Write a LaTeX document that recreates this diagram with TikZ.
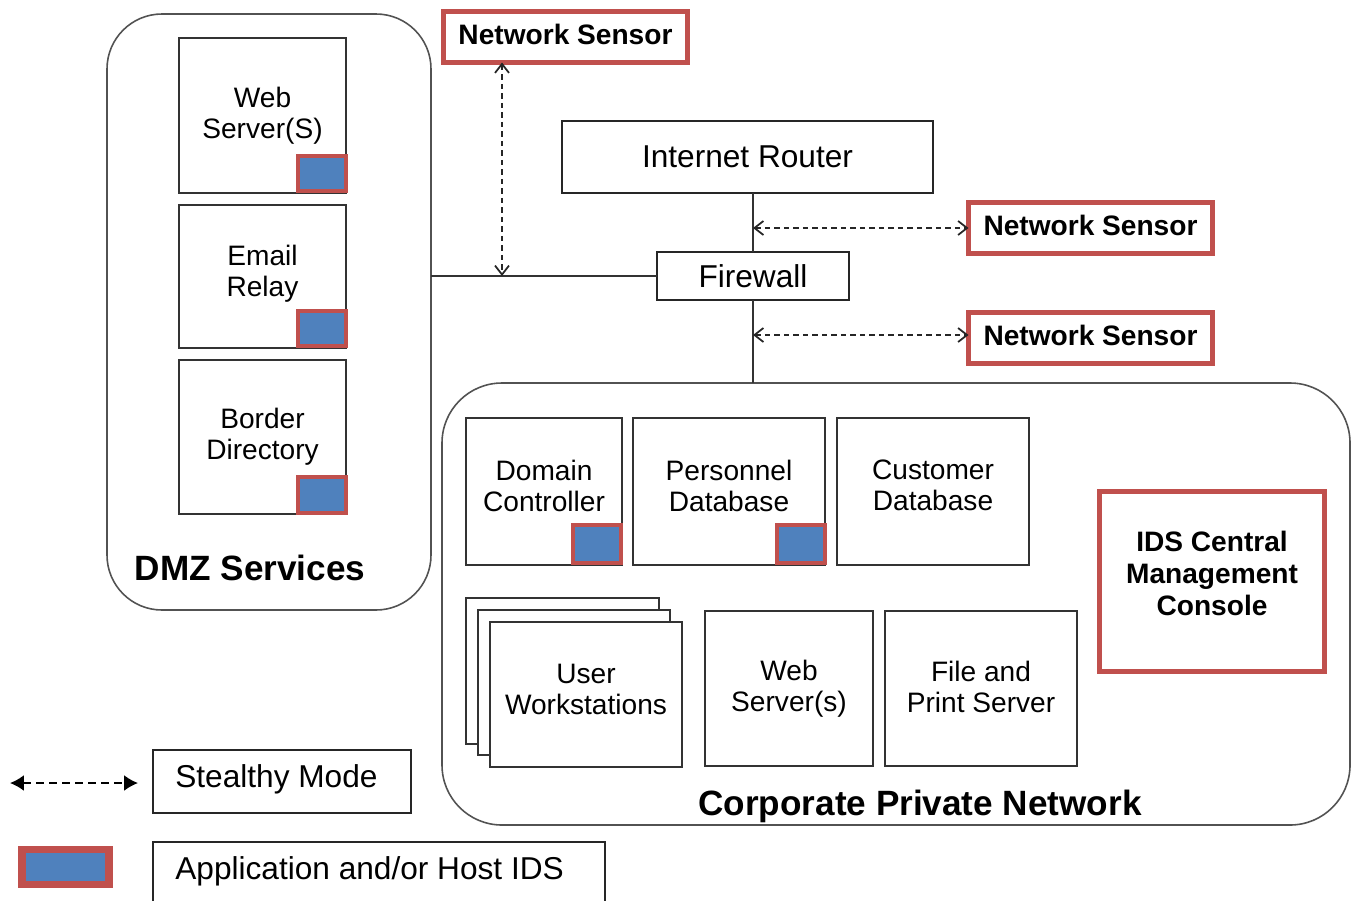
\documentclass[tikz,border=0pt]{standalone}
\usepackage{fontspec}
\setmainfont{Liberation Sans}
\usetikzlibrary{arrows.meta}
\definecolor{idsred}{HTML}{C0504D}
\definecolor{idsblue}{HTML}{4F81BD}
\definecolor{edgegray}{HTML}{333333}
% box from (x1,y1) to (x2,y2) in pixels, style, text raise in pixels, text
\newcommand{\bx}[8]{\node[#6, minimum width={(#4-#2)*0.02cm}, minimum height={(#5-#3)*0.02cm}] (#1) at ({(#2+#4)/2},{(#3+#5)/2}) {};
  \node[#6, draw=none, fill=none, minimum width=0pt, minimum height=0pt] (#1-t) at ([yshift={#7*0.567pt}]#1.center) {#8};}
\tikzset{
  base/.style={inner sep=0pt, outer sep=0pt, align=center, font=\fontsize{16}{17.6}\selectfont},
  srv/.style={base, draw=edgegray, line width=1.1pt, fill=white},
  big/.style={base, draw=black!85, line width=1.1pt, fill=white, font=\fontsize{18}{21}\selectfont},
  sensor/.style={base, draw=idsred, line width=2.6pt, fill=white, font=\bfseries\fontsize{16}{18.4}\selectfont},
  ids/.style={base, draw=idsred, fill=idsblue, line width=2.3pt},
  region/.style={base, draw=edgegray!85, line width=0.9pt, rounded corners=1.1cm},
  rlabel/.style={inner sep=0pt, font=\bfseries\fontsize{20}{24}\selectfont},
  legtext/.style={inner sep=0pt, anchor=west, font=\fontsize{18}{21}\selectfont},
  wire/.style={draw=edgegray, line width=1.1pt},
  stealthy/.style={draw=black!85, line width=1pt, dash pattern=on 1.1mm off 0.8mm,
    {Straight Barb[length=1.8mm,width=2.8mm]}-{Straight Barb[length=1.8mm,width=2.8mm]}},
  legarrow/.style={draw=black, line width=1pt, dash pattern=on 1.5mm off 1.1mm,
    {Latex[length=2.8mm,width=3.2mm]}-{Latex[length=2.8mm,width=3.2mm]}}
}
\begin{document}
\begin{tikzpicture}[x=0.02cm,y=-0.02cm]
\useasboundingbox (0,0) rectangle (1358,900);
% regions
\bx{dmz}{107}{14}{431}{610}{region}{0}{}
\bx{corp}{442}{383}{1350}{825}{region, rounded corners=1.2cm}{0}{}
\node[rlabel] (dmzlabel) at (250,568) {DMZ Services};
\node[rlabel] (corplabel) at (920,806) {Corporate Private Network};
% DMZ servers
\bx{web}{179}{38}{346}{193}{srv}{0}{Web\\Server(S)}
\bx{mail}{179}{205}{346}{348}{srv}{3}{Email\\Relay}
\bx{bdir}{179}{360}{346}{514}{srv}{0}{Border\\Directory}
\bx{idsA}{298}{156}{346}{191}{ids}{0}{}
\bx{idsB}{298}{311}{346}{346}{ids}{0}{}
\bx{idsC}{298}{477}{346}{513}{ids}{0}{}
% network core
\bx{router}{562}{121}{933}{193}{big}{0}{Internet Router}
\bx{fw}{657}{252}{849}{300}{big}{0}{Firewall}
\bx{ns1}{443.5}{11.5}{687.5}{62.5}{sensor}{3}{Network Sensor}
\bx{ns2}{968.5}{202.5}{1212.5}{253.5}{sensor}{3}{Network Sensor}
\bx{ns3}{968.5}{312.5}{1212.5}{363.5}{sensor}{3}{Network Sensor}
% corporate servers
\bx{dc}{466}{418}{622}{565}{srv}{6}{Domain\\Controller}
\bx{pdb}{633}{418}{825}{565}{srv}{6}{Personnel\\Database}
\bx{cdb}{837}{418}{1029}{565}{srv}{6}{Customer\\Database}
\bx{idsD}{573}{525}{621}{563}{ids}{0}{}
\bx{idsE}{777}{525}{825}{563}{ids}{0}{}
\bx{ws3}{466}{598}{659}{744}{srv, line width=0.8pt}{0}{}
\bx{ws2}{478}{610}{670}{755}{srv, line width=0.8pt}{0}{}
\bx{ws1}{490}{622}{682}{767}{srv}{5}{User\\Workstations}
\bx{web2}{705}{611}{873}{766}{srv}{0}{Web\\Server(s)}
\bx{fps}{885}{611}{1077}{766}{srv}{2}{File and\\Print Server}
\bx{cmc}{1099.5}{491.5}{1324.5}{671.5}{sensor}{8}{IDS Central\\Management\\Console}
% wires
\draw[wire] (fw.west) -- (fw.west -| dmz.east);
\draw[wire] (router.south -| fw.north) -- (fw.north);
\draw[wire] (fw.south) -- (fw.south |- corp.north);
% stealthy sensor links
\coordinate (tap1) at (502,276);
\draw[stealthy] (tap1 |- ns1.south) -- (tap1);
\coordinate (tap2) at (753,228);
\draw[stealthy] (tap2) -- (tap2 -| ns2.west);
\coordinate (tap3) at (753,335);
\draw[stealthy] (tap3) -- (tap3 -| ns3.west);
% legend
\bx{legs}{153}{750}{411}{813}{big}{0}{}
\node[legtext] (legstext) at (175,779) {Stealthy Mode};
\bx{legi}{153}{842}{605}{910}{big}{0}{}
\node[legtext] (legitext) at (175,871) {Application and/or Host IDS};
\bx{legbox}{22}{849}{109}{884}{ids, line width=4pt}{0}{}
\coordinate (la) at (10,783);
\coordinate (lb) at (138,783);
\draw[legarrow] (la) -- (lb);
\end{tikzpicture}
\end{document}
